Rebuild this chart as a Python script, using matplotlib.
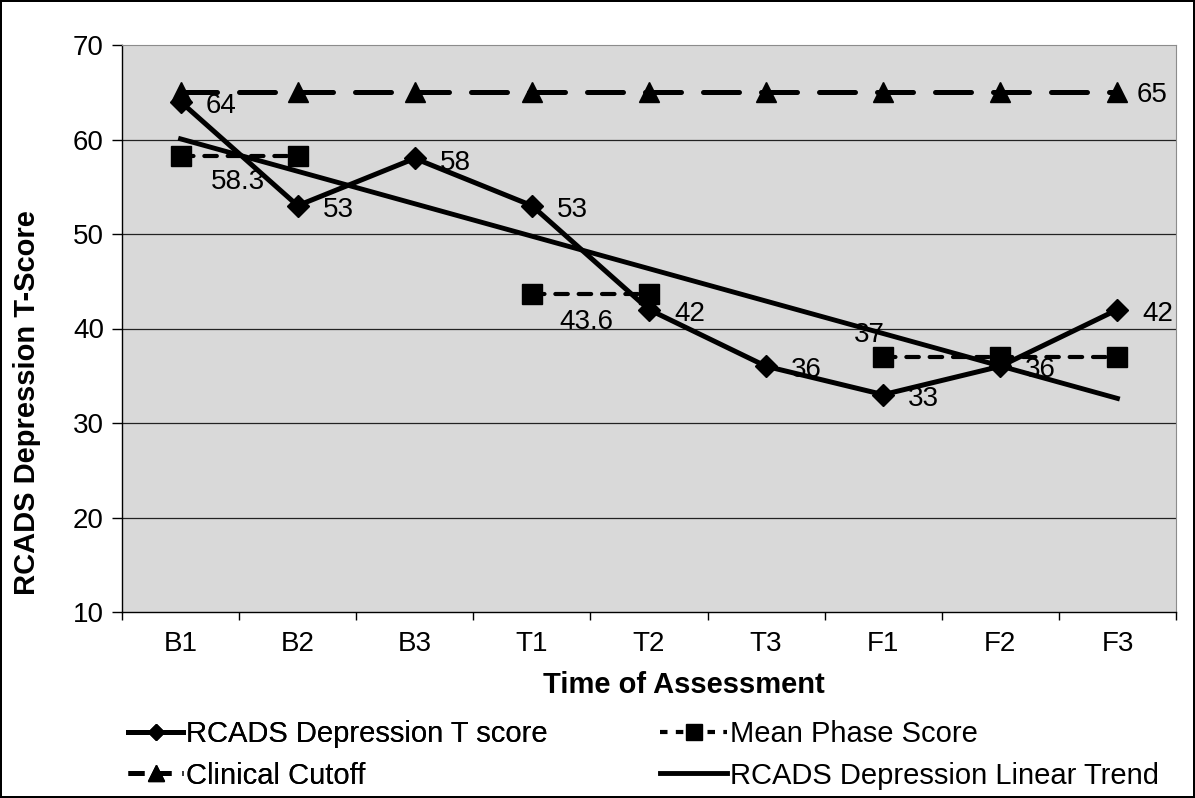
"""RCADS depression T-score across assessment phases (single-case chart)."""

import matplotlib
matplotlib.use("Agg")
import matplotlib.pyplot as plt
import numpy as np
from matplotlib.lines import Line2D

plt.rcParams["font.family"] = ["Liberation Sans", "DejaVu Sans"]

categories = ["B1", "B2", "B3", "T1", "T2", "T3", "F1", "F2", "F3"]
t_scores = [64, 53, 58, 53, 42, 36, 33, 36, 42]
phase_means = [58.3, 58.3, np.nan, 43.6, 43.6, np.nan, 37, 37, 37]
cutoff = [65, 65, 65, 65, 65, 65, 65, 65, 65]
yticks = [10, 20, 30, 40, 50, 60, 70]

FS = 20
LFS = 21
x = np.arange(len(categories))
slope, intercept = np.polyfit(x, t_scores, 1)
trend = slope * x + intercept

fig = plt.figure(figsize=(11.95, 7.98), dpi=100)
fig.patch.set_edgecolor("black")
fig.patch.set_linewidth(1.5)
ax = fig.add_axes([122 / 1195, 1 - 612 / 798, (1176 - 122) / 1195, (612 - 45) / 798])
ax.set_facecolor("#d9d9d9")

for g in yticks[1:-1]:
    ax.axhline(g, color="#222222", lw=0.9, zorder=1)

ax.plot(x, trend, color="black", lw=3.5, zorder=3)
ax.plot(x, cutoff, color="black", lw=3.6, dashes=(7.2, 4.4), dash_capstyle="round",
        marker="^", ms=15, zorder=4)
ax.plot(x, phase_means, color="black", lw=3, dashes=(3.0, 2.6), dash_capstyle="round",
        marker="s", ms=14, zorder=4)
ax.plot(x, t_scores, color="black", lw=3.6, marker="D", ms=11, zorder=5)

# data labels
for xi, v in zip(x, t_scores):
    ax.annotate(f"{v:.0f}", (xi, v), xytext=(18, -3), textcoords="offset points",
                ha="left", va="center", fontsize=FS, zorder=6)
for i, dx, dy, ha in [(0, 22, -19, "left"), (3, 20, -20, "left"), (6, -10, 16, "center")]:
    v = phase_means[i]
    ax.annotate(f"{v:g}", (x[i], v), xytext=(dx, dy), textcoords="offset points",
                ha=ha, va="center", fontsize=FS, zorder=6)
ax.annotate(f"{cutoff[-1]}", (x[-1], cutoff[-1]), xytext=(14, -2), textcoords="offset points",
            ha="left", va="center", fontsize=FS, zorder=6)

ax.set_xlim(-0.5, len(categories) - 0.5)
ax.set_ylim(10, 70)
ax.set_yticks(yticks)
ax.set_xticks(x)
ax.set_xticklabels(categories)
ax.set_xticks(np.arange(-0.5, len(categories)), minor=True)
ax.tick_params(axis="y", direction="out", length=7, width=1, labelsize=FS, pad=6)
ax.tick_params(axis="x", which="major", length=0, labelsize=FS, pad=14)
ax.tick_params(axis="x", which="minor", direction="out", length=6, width=1)

for side in ["top", "right"]:
    ax.spines[side].set_color("#8c8c8c")
for side in ["left", "bottom"]:
    ax.spines[side].set_color("black")
    ax.spines[side].set_linewidth(1)

fig.text(27 / 1195, 1 - 403 / 798, "RCADS Depression T-Score", rotation=90,
         ha="center", va="center", fontsize=LFS, fontweight="bold")
fig.text(684 / 1195, 1 - 685 / 798, "Time of Assessment",
         ha="center", va="center", fontsize=LFS, fontweight="bold")

# legend: two columns drawn as separate legends (different handle lengths)
h_tscore = Line2D([], [], color="black", lw=3.6, marker="D", ms=8)
h_cutoff = Line2D([], [], color="black", lw=3.6, dashes=(3.2, 2.2), marker="^", ms=11)
h_mean = Line2D([], [], color="black", lw=3, dashes=(1.8, 2.0), marker="s", ms=11)
h_trend = Line2D([], [], color="black", lw=3.5)

leg_kw = dict(loc="center left", frameon=False, fontsize=LFS, handletextpad=0.1,
              labelspacing=0.45, borderaxespad=0, borderpad=0)
leg1 = fig.legend([h_tscore, h_cutoff], ["RCADS Depression T score", "Clinical Cutoff"],
                  bbox_to_anchor=(128 / 1195, 1 - 755 / 798), handlelength=1.9, **leg_kw)
fig.add_artist(leg1)
fig.legend([h_mean, h_trend], ["Mean Phase Score", "RCADS Depression Linear Trend"],
           bbox_to_anchor=(660 / 1195, 1 - 755 / 798), handlelength=2.3, **leg_kw)

fig.savefig("out.png", dpi=100)
plt.close(fig)
